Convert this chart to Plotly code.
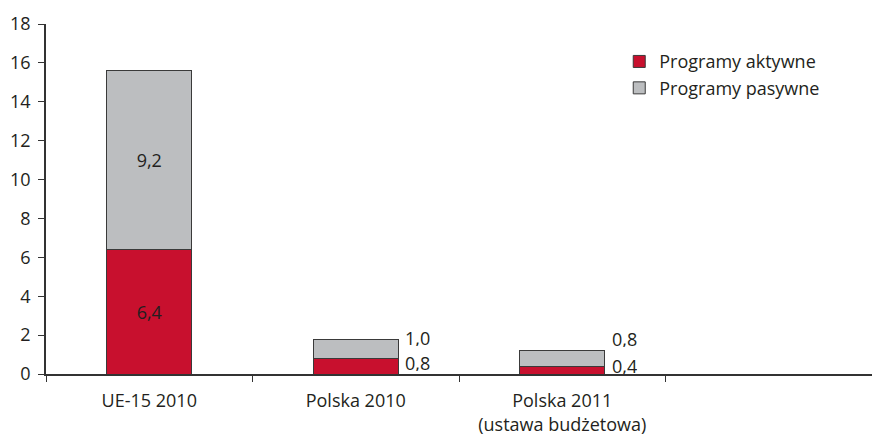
import plotly.graph_objects as go

categories = ["UE-15 2010", "Polska 2010", "Polska 2011<br>(ustawa budżetowa)"]
active = [6.4, 0.8, 0.4]
passive = [9.2, 1.0, 0.8]
active_labels = ["6,4", "0,8", "0,4"]
passive_labels = ["9,2", "1,0", "0,8"]
y_ticks = [0, 2, 4, 6, 8, 10, 12, 14, 16, 18]

RED = "#C8102E"
GREY = "#BCBEC0"
TXT = "#231F20"
FONT = "Open Sans"
FS = 18

all_cats = categories + [" "]

fig = go.Figure()
fig.add_trace(go.Bar(
    name="Programy aktywne", x=categories, y=active,
    marker=dict(color=RED, line=dict(color="#3a3a3a", width=1)),
    width=0.41,
    text=[active_labels[0], "", ""], textposition="inside",
    insidetextanchor="middle", textfont=dict(size=FS, color=TXT, family=FONT),
    hoverinfo="skip",
))
fig.add_trace(go.Bar(
    name="Programy pasywne", x=categories, y=passive,
    marker=dict(color=GREY, line=dict(color="#3a3a3a", width=1)),
    width=0.41,
    text=[passive_labels[0], "", ""], textposition="inside",
    insidetextanchor="middle", textfont=dict(size=FS, color=TXT, family=FONT),
    hoverinfo="skip",
))

# outside labels for small bars
yshift_active = [0, -4, 1]
yshift_passive = [0, 2, 12]
for i in (1, 2):
    fig.add_annotation(x=i + 0.205, y=active[i], text=active_labels[i],
                       xref="x", yref="y", xanchor="left", yanchor="middle",
                       xshift=5, yshift=yshift_active[i], showarrow=False,
                       height=17, valign="middle",
                       font=dict(size=FS, color=TXT, family=FONT))
    fig.add_annotation(x=i + 0.205, y=active[i] + passive[i], text=passive_labels[i],
                       xref="x", yref="y", xanchor="left", yanchor="middle",
                       xshift=5, yshift=yshift_passive[i], showarrow=False,
                       height=17, valign="middle",
                       font=dict(size=FS, color=TXT, family=FONT))

fig.update_layout(
    barmode="stack",
    width=872, height=435,
    margin=dict(l=46, r=0, t=24, b=61),
    plot_bgcolor="white", paper_bgcolor="white",
    font=dict(family=FONT, size=FS, color=TXT),
    showlegend=True,
    legend=dict(x=0.694, y=0.945, xanchor="left", yanchor="top",
                font=dict(size=FS, color=TXT, family=FONT),
                bgcolor="rgba(0,0,0,0)", traceorder="normal",
                itemwidth=30, tracegroupgap=0),
    xaxis=dict(
        type="category", categoryorder="array", categoryarray=all_cats,
        range=[-0.5, 3.5], tickson="boundaries", ticks="outside",
        ticklen=6, tickcolor="#333", linecolor="#333", linewidth=1.5,
        showgrid=False, tickfont=dict(size=FS, color=TXT, family=FONT),
        ticklabelstandoff=10, fixedrange=True,
    ),
    yaxis=dict(
        range=[0, 18], tickvals=y_ticks, ticks="outside", ticklen=6,
        tickcolor="#333", linecolor="#333", linewidth=1.5, showline=True,
        showgrid=False, zeroline=False, ticklabelstandoff=4,
        tickfont=dict(size=FS, color=TXT, family=FONT),
    ),
)

fig.write_html("out.html", config={"displayModeBar": False},
               post_script="document.body.style.margin='0';document.body.style.overflow='hidden';")
